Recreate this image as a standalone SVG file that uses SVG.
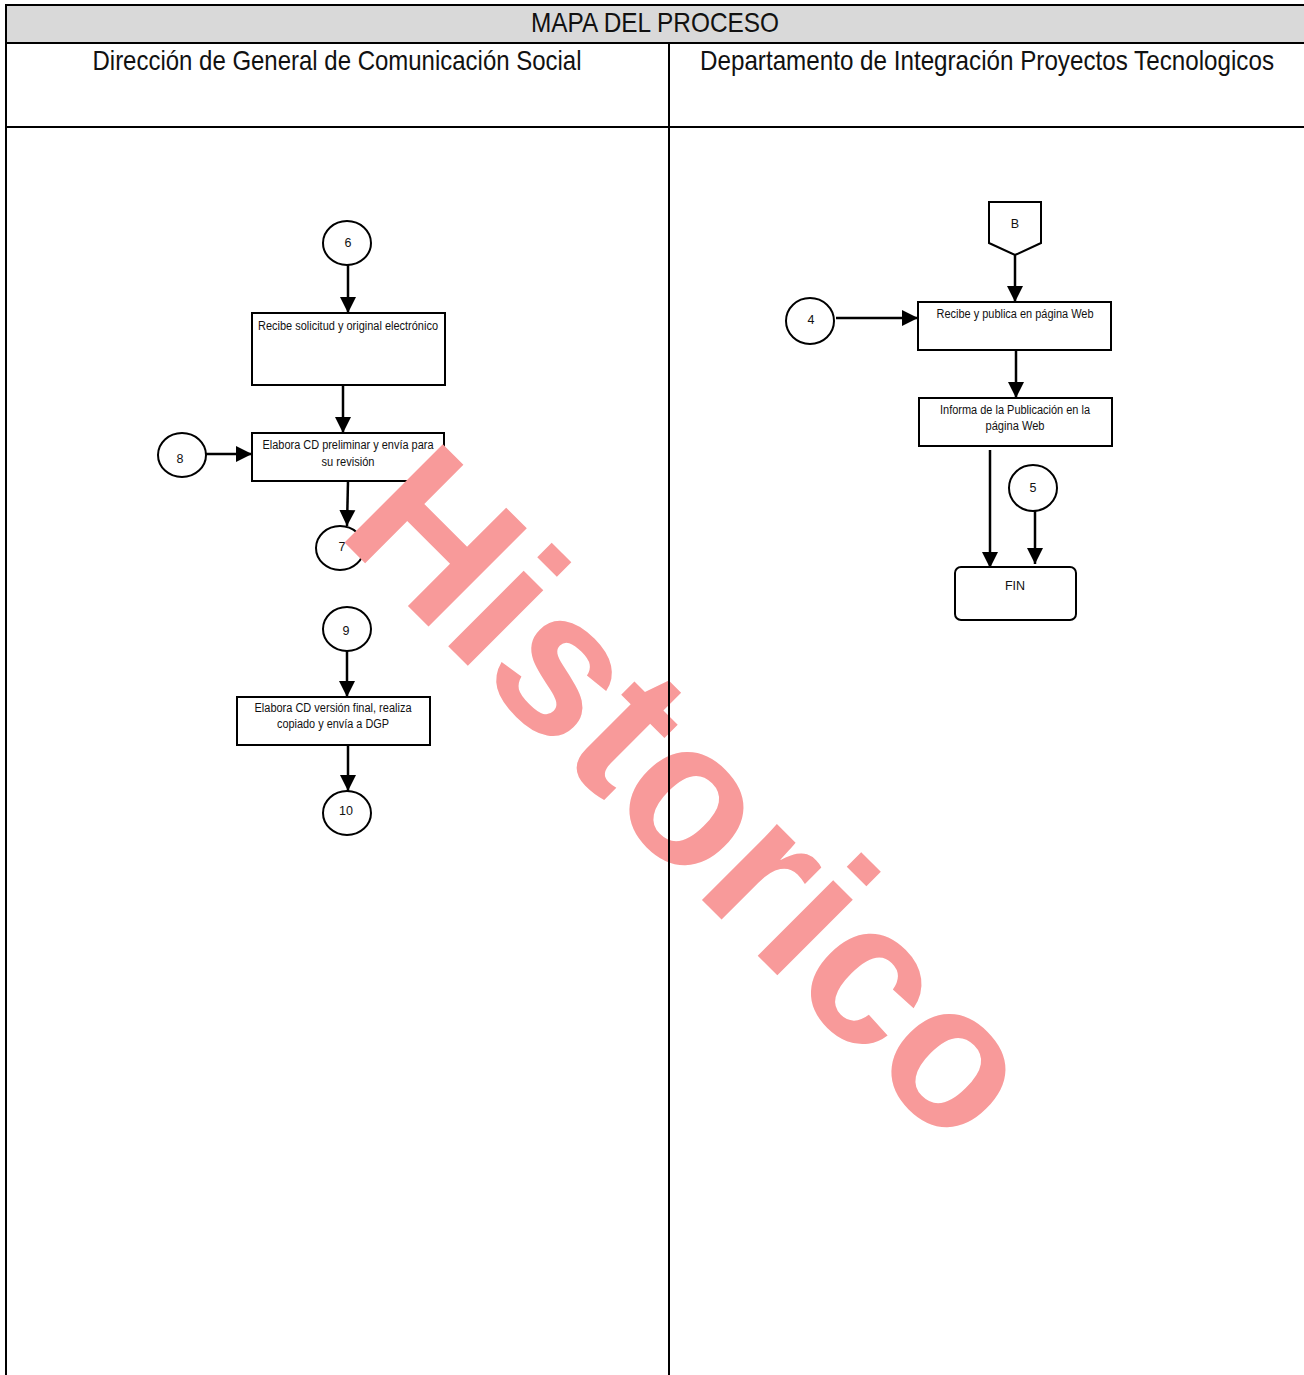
<svg xmlns="http://www.w3.org/2000/svg" width="1304" height="1375" viewBox="0 0 1304 1375">
<defs>
<style>
.ln{stroke:#000;stroke-width:2;fill:none}
.cn{stroke:#000;stroke-width:2.5;fill:none}
.bx{stroke:#000;stroke-width:2;fill:#fff}
.t{font-family:"Liberation Sans",Arial,sans-serif;fill:#111;text-anchor:middle}
.s{font-size:12.5px}
.h{font-size:28px}
</style>
<marker id="ah" markerUnits="userSpaceOnUse" markerWidth="17" markerHeight="17" viewBox="0 0 17 17" refX="16" refY="8.5" orient="auto">
<path d="M0,0.5 L16,8.5 L0,16.5 Z" fill="#000"/>
</marker>
</defs>
<rect width="1304" height="1375" fill="#fff"/>
<g id="frame">
<rect x="6" y="5" width="1300" height="38" fill="#D9D9D9" stroke="#000" stroke-width="2"/>
<text class="t h" x="655" y="32" textLength="248" lengthAdjust="spacingAndGlyphs">MAPA DEL PROCESO</text>
<line class="ln" x1="6" y1="5" x2="6" y2="1375"/>
<line class="ln" x1="6" y1="127" x2="1304" y2="127"/>
<text class="t h" x="337" y="70" textLength="489" lengthAdjust="spacingAndGlyphs">Dirección de General de Comunicación Social</text>
<text class="t h" x="987" y="70" textLength="574" lengthAdjust="spacingAndGlyphs">Departamento de Integración Proyectos Tecnologicos</text>
</g>
<g id="connectors">
<line class="cn" x1="348" y1="265" x2="348" y2="313" marker-end="url(#ah)"/>
<line class="cn" x1="343" y1="385" x2="343" y2="433" marker-end="url(#ah)"/>
<line class="cn" x1="206" y1="454" x2="252" y2="454" marker-end="url(#ah)"/>
<line class="cn" x1="348" y1="481" x2="347" y2="526" marker-end="url(#ah)"/>
<line class="cn" x1="347" y1="651" x2="347" y2="697" marker-end="url(#ah)"/>
<line class="cn" x1="348" y1="745" x2="348" y2="791" marker-end="url(#ah)"/>
<line class="cn" x1="1015" y1="255" x2="1015" y2="302" marker-end="url(#ah)"/>
<line class="cn" x1="836" y1="318" x2="918" y2="318" marker-end="url(#ah)"/>
<line class="cn" x1="1016" y1="350" x2="1016" y2="398" marker-end="url(#ah)"/>
<line class="cn" x1="990" y1="450" x2="990" y2="568" marker-end="url(#ah)"/>
<line class="cn" x1="1035" y1="510" x2="1035" y2="564" marker-end="url(#ah)"/>
</g>
<g id="n6"><ellipse class="bx" cx="347" cy="243" rx="24" ry="22"/><text class="t s" x="348" y="247">6</text></g>
<g id="n-recibe"><rect class="bx" x="252" y="313" width="193" height="72"/><text class="t s" x="348" y="330" textLength="180" lengthAdjust="spacingAndGlyphs">Recibe solicitud y original electrónico</text></g>
<g id="n8"><ellipse class="bx" cx="182" cy="455" rx="24" ry="22"/><text class="t s" x="180" y="463">8</text></g>
<g id="n-elabora1"><rect class="bx" x="252" y="433" width="192" height="48"/><text class="t s" x="348" y="449" textLength="171" lengthAdjust="spacingAndGlyphs">Elabora CD preliminar y envía para</text><text class="t s" x="348" y="466" textLength="53" lengthAdjust="spacingAndGlyphs">su revisión</text></g>
<g id="n7"><ellipse class="bx" cx="340" cy="548" rx="24" ry="22"/><text class="t s" x="342" y="551">7</text></g>
<g id="n9"><ellipse class="bx" cx="347" cy="629" rx="24" ry="22"/><text class="t s" x="346" y="635">9</text></g>
<g id="n-elabora2"><rect class="bx" x="237" y="697" width="193" height="48"/><text class="t s" x="333" y="712" textLength="157" lengthAdjust="spacingAndGlyphs">Elabora CD versión final, realiza</text><text class="t s" x="333" y="728" textLength="112" lengthAdjust="spacingAndGlyphs">copiado y envía a DGP</text></g>
<g id="n10"><ellipse class="bx" cx="347" cy="813" rx="24" ry="22"/><text class="t s" x="346" y="815">10</text></g>
<g id="nB"><path class="bx" d="M989,202 L1041,202 L1041,243 L1015,255 L989,243 Z"/><text class="t s" x="1015" y="228">B</text></g>
<g id="n4"><ellipse class="bx" cx="810" cy="321" rx="24" ry="23"/><text class="t s" x="811" y="324">4</text></g>
<g id="n-publica"><rect class="bx" x="918" y="302" width="193" height="48"/><text class="t s" x="1015" y="318" textLength="157" lengthAdjust="spacingAndGlyphs">Recibe y publica en página Web</text></g>
<g id="n-informa"><rect class="bx" x="919" y="398" width="193" height="48"/><text class="t s" x="1015" y="414" textLength="150" lengthAdjust="spacingAndGlyphs">Informa de la Publicación en la</text><text class="t s" x="1015" y="430" textLength="59" lengthAdjust="spacingAndGlyphs">página Web</text></g>
<g id="n5"><ellipse class="bx" cx="1033" cy="488" rx="24" ry="23"/><text class="t s" x="1033" y="492">5</text></g>
<g id="n-fin"><rect class="bx" x="955" y="567" width="121" height="53" rx="6"/><text class="t s" x="1015" y="590">FIN</text></g>
<g id="watermark"><text transform="translate(335,533) rotate(45)" font-family="'Liberation Sans',Arial,sans-serif" font-weight="bold" font-size="202" fill="#F89A9A">Historico</text></g>
<g id="divider"><line class="ln" x1="669" y1="43" x2="669" y2="1375"/></g>
</svg>
